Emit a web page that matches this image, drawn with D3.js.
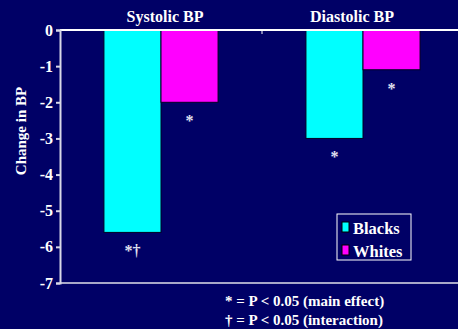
<!DOCTYPE html>
<html>
<head>
<meta charset="utf-8">
<script src="https://cdn.jsdelivr.net/npm/d3@7"></script>
<style>
  html, body { margin: 0; padding: 0; background: #000066; }
  svg { display: block; }
  text { font-family: "Liberation Serif", "Times New Roman", serif; font-weight: bold; fill: #ffffff; }
</style>
</head>
<body>
<svg id="chart" width="458" height="329"></svg>
<script>
// Mean change in blood pressure by group
const measures = ["Systolic BP", "Diastolic BP"];
const groups = ["Blacks", "Whites"];
const blacksChange = [-5.6, -3.0];
const whitesChange = [-2.0, -1.1];
const blacksMarks = ["*\u2020", "*"];
const whitesMarks = ["*", "*"];
const yTicks = [0, -1, -2, -3, -4, -5, -6, -7];
const footnotes = ["* = P < 0.05 (main effect)", "\u2020 = P < 0.05 (interaction)"];

const colors = { Blacks: "#00ffff", Whites: "#ff00ff" };

const svg = d3.select("#chart");
const W = 458, H = 329;

const x0 = d3.scaleBand().domain(measures).range([60, 464]).paddingInner(0).paddingOuter(0);
const x1 = d3.scaleBand().domain(groups).range([0, x0.bandwidth()]).paddingInner(0).paddingOuter(0.77);
const y = d3.scaleLinear().domain([-7, 0]).range([283, 30]);

const rows = measures.map((m, i) => ({
  measure: m,
  values: [
    { group: "Blacks", value: blacksChange[i], mark: blacksMarks[i] },
    { group: "Whites", value: whitesChange[i], mark: whitesMarks[i] }
  ]
}));

// bars
const g = svg.selectAll("g.measure").data(rows).join("g")
  .attr("class", "measure")
  .attr("transform", d => `translate(${x0(d.measure)},0)`);

g.selectAll("rect").data(d => d.values).join("rect")
  .attr("x", d => x1(d.group))
  .attr("y", y(0))
  .attr("width", x1.bandwidth())
  .attr("height", d => y(d.value) - y(0))
  .attr("fill", d => colors[d.group])
  .attr("stroke", "#000022")
  .attr("stroke-width", 1);

// significance marks under each bar
g.selectAll("text.mark").data(d => d.values).join("text")
  .attr("class", "mark")
  .attr("x", d => x1(d.group) + x1.bandwidth() / 2)
  .attr("y", d => y(d.value) + 24)
  .attr("text-anchor", "middle")
  .style("font-size", "16px")
  .style("fill", "#e0e0f0")
  .text(d => d.mark);

// measure titles
svg.selectAll("text.title").data(measures).join("text")
  .attr("class", "title")
  .attr("x", (d, i) => x0(d) + x0.bandwidth() / 2 + (i === 0 ? 4 : -11))
  .attr("y", 22)
  .attr("text-anchor", "middle")
  .style("font-size", "16px")
  .text(d => d);

// top (zero) axis line and category separator tick
svg.append("line")
  .attr("x1", 60).attr("x2", W)
  .attr("y1", y(0)).attr("y2", y(0))
  .attr("stroke", "#ffffff").attr("stroke-width", 2);
svg.append("line")
  .attr("x1", x0(measures[1])).attr("x2", x0(measures[1]))
  .attr("y1", y(0)).attr("y2", y(0) + 4)
  .attr("stroke", "#ffffff").attr("stroke-width", 1);

// bottom baseline
svg.append("line")
  .attr("x1", 60).attr("x2", W)
  .attr("y1", y(-7)).attr("y2", y(-7))
  .attr("stroke", "#a8a8c8").attr("stroke-width", 2);

// y axis
const yAxis = d3.axisLeft(y).tickValues(yTicks).tickSize(4).tickPadding(3).tickFormat(d => String(d));
const ya = svg.append("g").attr("transform", "translate(60,0)").call(yAxis);
ya.select(".domain").attr("stroke", "#d8d8e8").attr("stroke-width", 2);
ya.selectAll(".tick line").attr("stroke", "#d8d8e8").attr("stroke-width", 2);
ya.selectAll(".tick text")
  .style("font-family", "'Liberation Serif', 'Times New Roman', serif")
  .style("font-weight", "bold")
  .style("font-size", "16px")
  .attr("fill", "#ffffff");

// y axis title
svg.append("text")
  .attr("transform", "translate(26,131) rotate(-90)")
  .attr("text-anchor", "middle")
  .style("font-size", "15px")
  .text("Change in BP");

// legend
const lg = svg.append("g").attr("transform", "translate(337,214)");
lg.append("rect").attr("width", 74).attr("height", 46)
  .attr("fill", "none").attr("stroke", "#ffffff").attr("stroke-width", 1);
lg.selectAll("rect.sw").data(groups).join("rect")
  .attr("class", "sw")
  .attr("x", 5).attr("y", (d, i) => 8 + i * 23)
  .attr("width", 7).attr("height", 10)
  .attr("fill", d => colors[d])
  .attr("stroke", "#000000").attr("stroke-width", 1);
lg.selectAll("text.lt").data(groups).join("text")
  .attr("class", "lt")
  .attr("x", 16).attr("y", (d, i) => 20 + i * 23)
  .style("font-size", "16.5px")
  .text(d => d);

// footnotes
svg.selectAll("text.fn").data(footnotes).join("text")
  .attr("class", "fn")
  .attr("x", 225).attr("y", (d, i) => 306 + i * 19)
  .style("font-size", "15px")
  .text(d => d);
</script>
</body>
</html>
